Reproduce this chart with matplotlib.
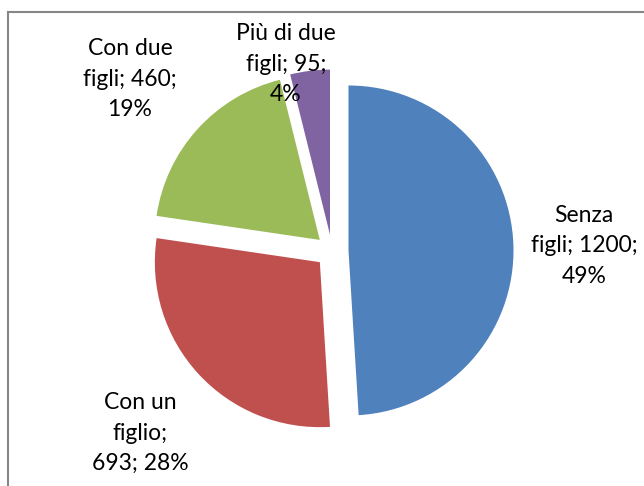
import matplotlib
matplotlib.use("Agg")
import matplotlib.pyplot as plt
from matplotlib.lines import Line2D

labels = ["Senza\nfigli; 1200;\n49%", "Con un\nfiglio;\n693; 28%",
          "Con due\nfigli; 460;\n19%", "Più di due\nfigli; 95;\n4%"]
values = [1200, 693, 460, 95]
colors = ["#4F81BD", "#C0504D", "#9BBB59", "#8064A2"]
# label centres in pixels (x, y from top)
label_pos = [(584, 246), (140, 433), (130, 79), (286, 64)]

W, H = 644, 486
fig = plt.figure(figsize=(W / 100, H / 100), dpi=100)
plt.rcParams['font.family'] = ['Lato', 'DejaVu Sans']

cx, cy, r = 332, 251, 165
half = 200
ax = fig.add_axes([(cx - half) / W, (H - cy - half) / H, 2 * half / W, 2 * half / H])
ax.pie(values, colors=colors, startangle=90, counterclock=False,
       explode=[0.1] * len(values), radius=1,
       wedgeprops=dict(linewidth=0))
lim = half / r
ax.set_xlim(-lim, lim)
ax.set_ylim(-lim, lim)
ax.set_aspect("equal")
ax.axis("off")

for lab, (x, y) in zip(labels, label_pos):
    fig.text(x / W, 1 - y / H, lab, ha="center", va="center",
             fontsize=16.5, linespacing=1.55, color="black")

# chart area border (cropped at right and bottom)
bx, by = 8 / W, 1 - 12 / H
fig.add_artist(Line2D([bx, bx], [0, by], color="#868686", lw=1.5))
fig.add_artist(Line2D([bx, 1], [by, by], color="#868686", lw=1.5))

fig.savefig("out.png", dpi=100)
